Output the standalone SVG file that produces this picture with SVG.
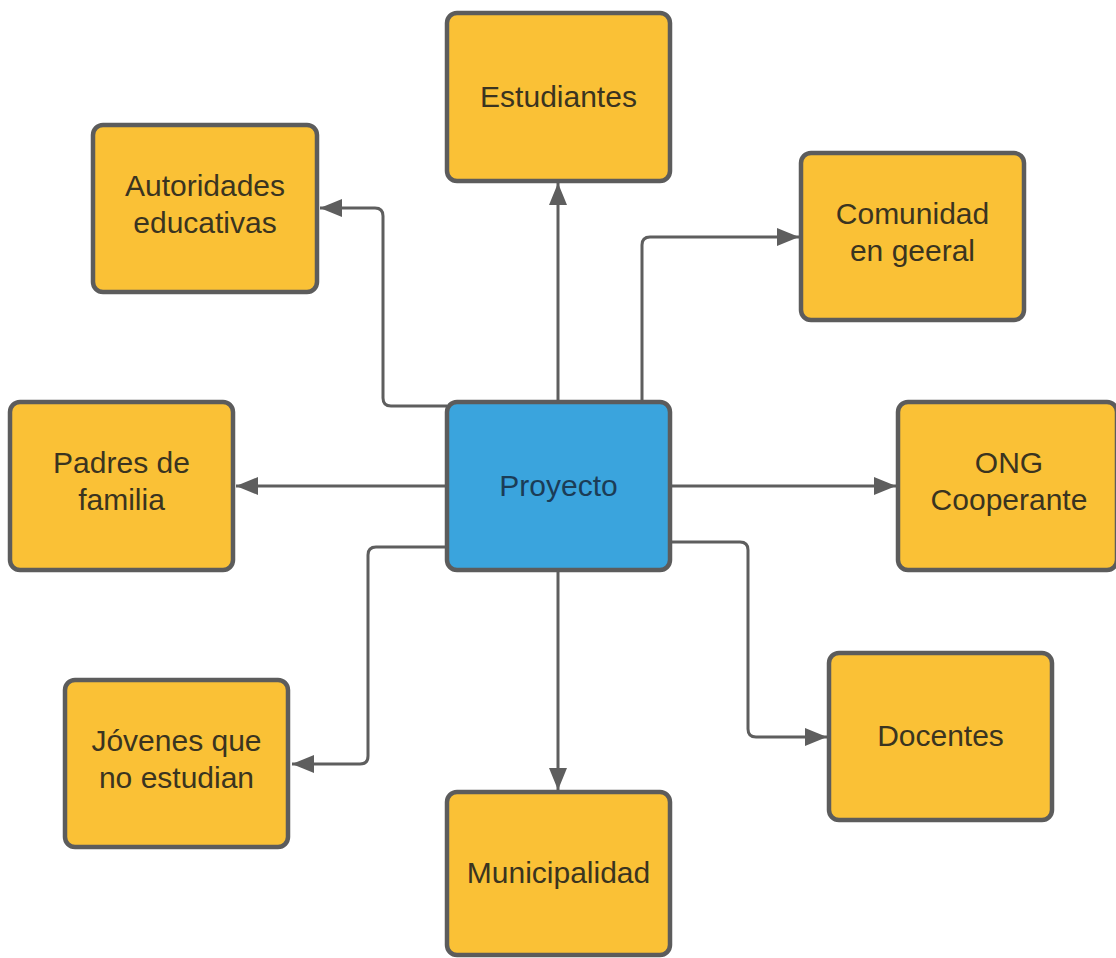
<svg xmlns="http://www.w3.org/2000/svg" width="1116" height="958" viewBox="0 0 1116 958">
<style>
.n{fill:#FAC136;stroke:#5C5C5C;stroke-width:4.5}
.c{fill:#3AA4DD;stroke:#5C5C5C;stroke-width:4.5}
.t{font-family:"Liberation Sans",Arial,sans-serif;font-size:30px;fill:#3A3420;text-anchor:middle}
.tc{font-family:"Liberation Sans",Arial,sans-serif;font-size:30px;fill:#1B3C56;text-anchor:middle}
.e{fill:none;stroke:#5E5E5E;stroke-width:3;marker-end:url(#a)}
</style>
<defs>
<marker id="a" markerUnits="userSpaceOnUse" markerWidth="24" markerHeight="20" refX="22" refY="9" orient="auto">
<path d="M0,0 L22,9 L0,18 z" fill="#5E5E5E"/>
</marker>
</defs>
<rect width="1116" height="958" fill="#FFFFFF"/>
<g id="connectors">
<path class="e" d="M558,402 V183"/>
<path class="e" d="M447,406 H391 Q383,406 383,398 V216 Q383,208 375,208 H320"/>
<path class="e" d="M642,402 V245 Q642,237 650,237 H799"/>
<path class="e" d="M447,486 H236"/>
<path class="e" d="M670,486 H896"/>
<path class="e" d="M447,547 H376 Q368,547 368,555 V756 Q368,764 360,764 H292"/>
<path class="e" d="M670,542 H740 Q748,542 748,550 V729 Q748,737 756,737 H827"/>
<path class="e" d="M558,570 V790"/>
</g>
<g id="proyecto">
<rect class="c" x="447" y="402" width="223" height="168" rx="10"/>
<text class="tc" x="558.5" y="496">Proyecto</text>
</g>
<g id="estudiantes">
<rect class="n" x="447" y="13" width="223" height="168" rx="10"/>
<text class="t" x="558.5" y="107">Estudiantes</text>
</g>
<g id="autoridades">
<rect class="n" x="93" y="125" width="224" height="167" rx="10"/>
<text class="t" x="205" y="196">Autoridades</text>
<text class="t" x="205" y="233">educativas</text>
</g>
<g id="comunidad">
<rect class="n" x="801" y="153" width="223" height="167" rx="10"/>
<text class="t" x="912.5" y="224">Comunidad</text>
<text class="t" x="912.5" y="261">en geeral</text>
</g>
<g id="padres">
<rect class="n" x="10" y="402" width="223" height="168" rx="10"/>
<text class="t" x="121.5" y="473">Padres de</text>
<text class="t" x="121.5" y="510">familia</text>
</g>
<g id="ong">
<rect class="n" x="898" y="402" width="219" height="168" rx="10"/>
<text class="t" x="1009" y="473">ONG</text>
<text class="t" x="1009" y="510">Cooperante</text>
</g>
<g id="jovenes">
<rect class="n" x="65" y="680" width="223" height="167" rx="10"/>
<text class="t" x="176.5" y="751">Jóvenes que</text>
<text class="t" x="176.5" y="788">no estudian</text>
</g>
<g id="docentes">
<rect class="n" x="829" y="653" width="223" height="167" rx="10"/>
<text class="t" x="940.5" y="746">Docentes</text>
</g>
<g id="municipalidad">
<rect class="n" x="447" y="792" width="223" height="163" rx="10"/>
<text class="t" x="558.5" y="883">Municipalidad</text>
</g>
</svg>
